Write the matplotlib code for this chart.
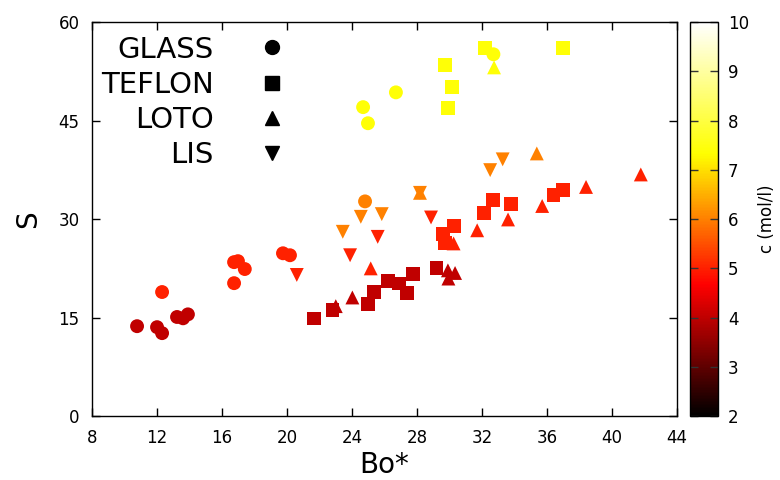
import matplotlib
matplotlib.use('Agg')
import matplotlib.pyplot as plt
from matplotlib.colors import LinearSegmentedColormap
from matplotlib.lines import Line2D

# GLASS
glass_bo = [10.77, 12.0, 12.31, 13.23, 13.6, 13.9, 12.31, 16.74, 16.98, 17.4, 16.74, 19.75, 20.18,
            24.8, 24.68, 24.98, 26.7, 32.7]
glass_s = [13.7, 13.55, 12.64, 15.1, 14.9, 15.5, 18.9, 23.45, 23.6, 22.4, 20.25, 24.8, 24.5,
           32.7, 47.05, 44.6, 49.3, 55.1]
glass_c = [4, 4, 4, 4, 4, 4, 5, 5, 5, 5, 5, 5, 5, 6, 7.4, 7.4, 7.4, 7.4]

# TEFLON
teflon_bo = [21.66, 22.8, 25.0, 25.35, 26.2, 26.9, 27.37, 27.77, 29.2,
             29.6, 29.72, 30.28, 32.1, 32.7, 33.8, 36.4, 37.0,
             29.72, 30.13, 29.9, 32.2, 36.97]
teflon_s = [14.87, 16.1, 17.05, 18.9, 20.6, 20.2, 18.7, 21.7, 22.5,
            27.8, 26.3, 28.9, 30.9, 32.9, 32.3, 33.65, 34.4,
            53.45, 50.1, 46.9, 56.0, 56.1]
teflon_c = [4, 4, 4, 4, 4, 4, 4, 4, 4,
            5, 5, 5, 5, 5, 5, 5, 5,
            7.4, 7.4, 7.4, 7.4, 7.4]

# LOTO
loto_bo = [23.0, 24.02, 29.9, 30.34, 29.93,
           25.15, 31.7, 33.6, 30.25, 35.7, 38.4, 41.77,
           35.37, 28.18, 32.74]
loto_s = [16.75, 18.07, 22.2, 21.8, 20.95,
          22.5, 28.3, 29.95, 26.3, 32.0, 34.9, 36.8,
          40.0, 34.0, 53.1]
loto_c = [4, 4, 4, 4, 4,
          5, 5, 5, 5, 5, 5, 5,
          6, 6, 7.4]

# LIS
lis_bo = [20.6, 25.58, 23.88, 28.86, 24.54, 25.83, 23.43, 28.18, 32.5, 33.27]
lis_s = [21.5, 27.3, 24.5, 30.25, 30.35, 30.76, 28.07, 34.0, 37.46, 39.1]
lis_c = [5, 5, 5, 5, 6, 6, 6, 6, 6, 6]

x_ticks = [8, 12, 16, 20, 24, 28, 32, 36, 40, 44]
y_ticks = [0, 15, 30, 45, 60]
c_ticks = [2, 3, 4, 5, 6, 7, 8, 9, 10]

# gnuplot-like hot palette: r=3x, g=3x-1, b=3x-2
hot = LinearSegmentedColormap.from_list('hot3', [(0, 'black'), (1 / 3, 'red'), (2 / 3, 'yellow'), (1, 'white')])

fig = plt.figure(figsize=(7.8, 4.8), dpi=100)
ax = fig.add_axes([0.118, 0.133, 0.750, 0.821])

kw = dict(cmap=hot, vmin=2, vmax=10, s=100, linewidths=0)
sc = ax.scatter(glass_bo, glass_s, c=glass_c, marker='o', **kw)
ax.scatter(teflon_bo, teflon_s, c=teflon_c, marker='s', **kw)
ax.scatter(loto_bo, loto_s, c=loto_c, marker='^', **kw)
ax.scatter(lis_bo, lis_s, c=lis_c, marker='v', **kw)

ax.set_xlim(8, 44)
ax.set_ylim(0, 60)
ax.set_xticks(x_ticks)
ax.set_yticks(y_ticks)
ax.tick_params(direction='in', top=True, right=True, length=6, width=1, labelsize=12, pad=9)
for sp in ax.spines.values():
    sp.set_linewidth(1)
ax.set_xlabel('Bo*', fontsize=20, labelpad=3)
ax.set_ylabel('S', fontsize=20, labelpad=12)

handles = [Line2D([], [], ls='none', marker=m, color='k', ms=10)
           for m in ['o', 's', '^', 'v']]
ax.legend(handles, ['GLASS', 'TEFLON', 'LOTO', 'LIS'], loc='upper left',
          bbox_to_anchor=(-0.017, 1.014), frameon=False, markerfirst=False,
          fontsize=21, handlelength=1.0, handletextpad=1.5, labelspacing=0.25,
          borderpad=0.15)

cax = fig.add_axes([0.885, 0.133, 0.036, 0.821])
cb = fig.colorbar(sc, cax=cax, ticks=c_ticks)
cb.outline.set_linewidth(1)
cax.tick_params(direction='in', left=True, right=True, length=6, width=1,
                labelsize=12, pad=7, color='#333333')
cb.set_label('c (mol/l)', fontsize=12, labelpad=6)

fig.savefig('out.png', dpi=100)
